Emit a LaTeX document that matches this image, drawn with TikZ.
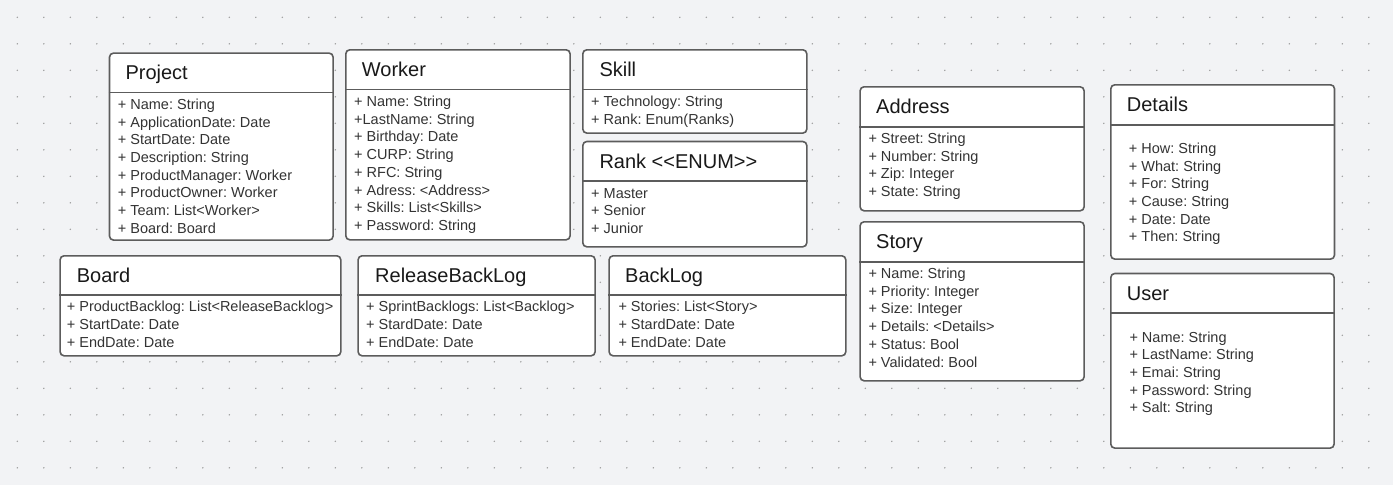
\documentclass[tikz,border=0pt]{standalone}
\usepackage{fontspec}
\setmainfont{Liberation Sans}
\frenchspacing
\definecolor{canvas}{HTML}{F2F3F5}
\definecolor{gridDot}{HTML}{9C9C9C}
\definecolor{frame}{HTML}{5C5C5C}
\definecolor{attrText}{HTML}{333333}
\tikzstyle{classbox} = [rectangle, draw=frame, line width=1.6pt, fill=white,
    rounded corners=4pt, anchor=north west, inner sep=0pt]
\tikzstyle{divider} = [draw=frame, line width=1.6pt]
\tikzstyle{classname} = [anchor=base west, inner sep=0pt,
    font=\fontsize{20}{24}\selectfont, text=black!90]
% attribute lists are placed by the baseline of their last line
\tikzstyle{attrs} = [anchor=base west, inner sep=0pt, align=left,
    font=\fontsize{14.5}{17.7}\selectfont, text=attrText]

\begin{document}
\begin{tikzpicture}[x=1pt, y=-1pt]
\fill[canvas] (0,0) rectangle (1393,485);
\useasboundingbox (0,0) rectangle (1393,485);
\foreach \i in {0,...,51}
  \foreach \j in {0,...,17}
    \fill[gridDot] (17.3+26.5*\i, 17.3+26.5*\j) circle (0.8pt);

% upper row
\node (project) [classbox, minimum width=223.6pt, minimum height=187pt] at (108.7,52.3) {};
\draw [divider] (project.west |- 0,92.3) -- (project.east |- 0,92.3);
\node (projectname) [classname] at (125.3,79.3) {Project};
\node (projectattrs) [attrs] at (117.7,233.2) {+ Name: String\\+ ApplicationDate: Date\\+ StartDate: Date\\+ Description: String\\+ ProductManager: Worker\\+ ProductOwner: Worker\\+ Team: List<Worker>\\+ Board: Board};

\node (worker) [classbox, minimum width=224.3pt, minimum height=190pt] at (345,49) {};
\draw [divider] (worker.west |- 0,89.3) -- (worker.east |- 0,89.3);
\node (workername) [classname] at (361.7,76.7) {Worker};
\node (workerattrs) [attrs] at (354,230.4) {+ Name: String\\+LastName: String\\+ Birthday: Date\\+ CURP: String\\+ RFC: String\\+ Adress: <Address>\\+ Skills: List<Skills>\\+ Password: String};

\node (skill) [classbox, minimum width=224pt, minimum height=83.3pt] at (582,49) {};
\draw [divider] (skill.west |- 0,89.3) -- (skill.east |- 0,89.3);
\node (skillname) [classname] at (599.3,76.7) {Skill};
\node (skillattrs) [attrs] at (591,124.2) {+ Technology: String\\+ Rank: Enum(Ranks)};

\node (rank) [classbox, minimum width=224pt, minimum height=105.3pt] at (582,140.7) {};
\draw [divider] (rank.west |- 0,180.7) -- (rank.east |- 0,180.7);
\node (rankname) [classname] at (599.3,168.3) {Rank <{}<ENUM>{}>};
\node (rankattrs) [attrs] at (591,233.5) {+ Master\\+ Senior\\+ Junior};

% lower row
\node (board) [classbox, minimum width=280.7pt, minimum height=100pt] at (59.3,255) {};
\draw [divider] (board.west |- 0,295) -- (board.east |- 0,295);
\node (boardname) [classname] at (76.7,282.3) {Board};
\node (boardattrs) [attrs] at (66.7,347) {+ ProductBacklog: List<ReleaseBacklog>\\+ StartDate: Date\\+ EndDate: Date};

\node (release) [classbox, minimum width=237pt, minimum height=100pt] at (357.3,255) {};
\draw [divider] (release.west |- 0,295) -- (release.east |- 0,295);
\node (releasename) [classname] at (375,282.3) {ReleaseBackLog};
\node (releaseattrs) [attrs] at (366,347) {+ SprintBacklogs: List<Backlog>\\+ StardDate: Date\\+ EndDate: Date};

\node (backlog) [classbox, minimum width=236.7pt, minimum height=100pt] at (608.3,255) {};
\draw [divider] (backlog.west |- 0,295) -- (backlog.east |- 0,295);
\node (backlogname) [classname] at (625,282.3) {BackLog};
\node (backlogattrs) [attrs] at (618.3,347) {+ Stories: List<Story>\\+ StardDate: Date\\+ EndDate: Date};

% right columns
\node (address) [classbox, minimum width=224pt, minimum height=124pt] at (859.3,86) {};
\draw [divider] (address.west |- 0,126.7) -- (address.east |- 0,126.7);
\node (addressname) [classname] at (876,113.3) {Address};
\node (addressattrs) [attrs] at (868.3,196.5) {+ Street: String\\+ Number: String\\+ Zip: Integer\\+ State: String};

\node (story) [classbox, minimum width=224pt, minimum height=159pt] at (859.3,221) {};
\draw [divider] (story.west |- 0,262) -- (story.east |- 0,262);
\node (storyname) [classname] at (876,248.3) {Story};
\node (storyattrs) [attrs] at (868.3,367) {+ Name: String\\+ Priority: Integer\\+ Size: Integer\\+ Details: <Details>\\+ Status: Bool\\+ Validated: Bool};

\node (details) [classbox, minimum width=223.7pt, minimum height=174.3pt] at (1110,84) {};
\draw [divider] (details.west |- 0,125) -- (details.east |- 0,125);
\node (detailsname) [classname] at (1126.7,111) {Details};
\node (detailsattrs) [attrs] at (1128.7,241.8) {+ How: String\\+ What: String\\+ For: String\\+ Cause: String\\+ Date: Date\\+ Then: String};

\node (user) [classbox, minimum width=223.3pt, minimum height=174.6pt] at (1110,272.7) {};
\draw [divider] (user.west |- 0,312.7) -- (user.east |- 0,312.7);
\node (username) [classname] at (1126.7,300) {User};
\node (userattrs) [attrs] at (1129.3,412.8) {+ Name: String\\+ LastName: String\\+ Emai: String\\+ Password: String\\+ Salt: String};

\end{tikzpicture}
\end{document}
